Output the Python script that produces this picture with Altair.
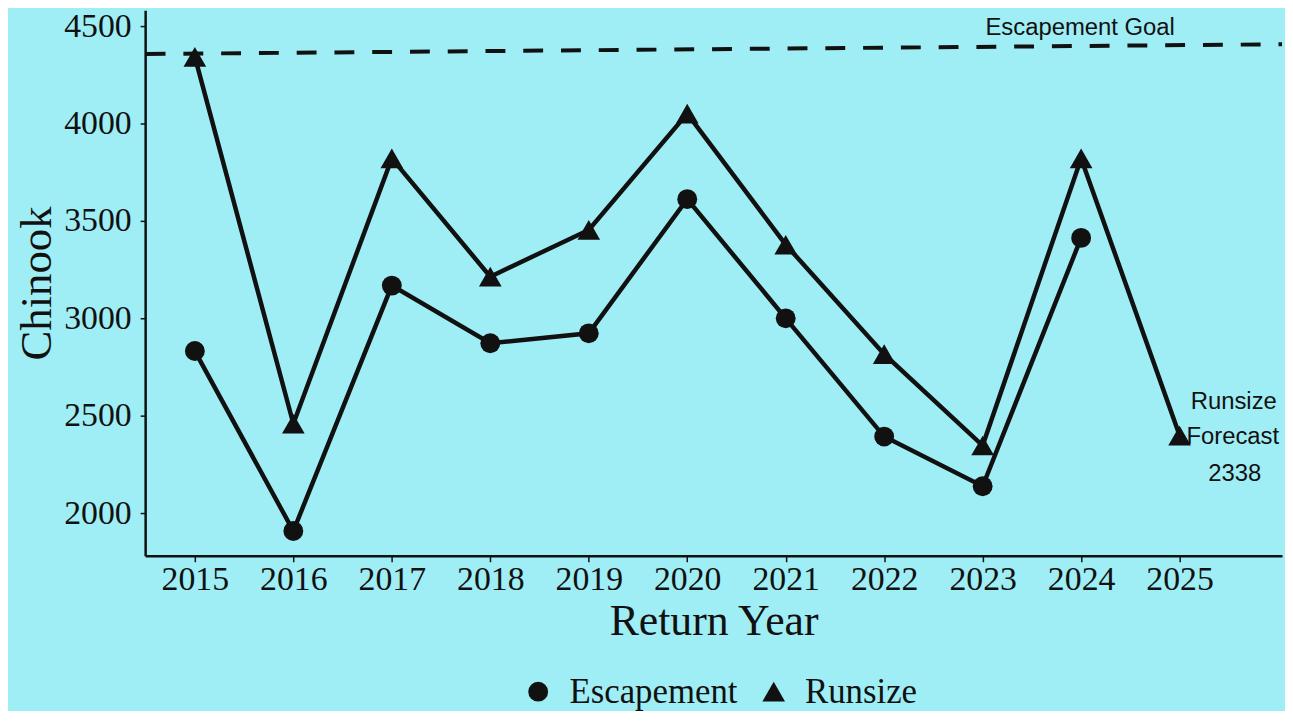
import altair as alt
import pandas as pd

years_esc = [2015, 2016, 2017, 2018, 2019, 2020, 2021, 2022, 2023, 2024]
escapement = [2832, 1908, 3168, 2872, 2923, 3612, 3000, 2393, 2138, 3413]
years_run = [2015, 2016, 2017, 2018, 2019, 2020, 2021, 2022, 2023, 2024, 2025]
runsize = [4342, 2459, 3821, 3214, 3454, 4051, 3378, 2816, 2347, 3821, 2398]
goal_x = [2014.5, 2026.04]
goal_y = [4357, 4407]
ann_text = ["Escapement Goal", "Runsize", "Forecast", "2338"]
ann_x = [2023.99, 2025.55, 2025.54, 2025.56]
ann_y = [4490, 2571, 2388, 2199]

BG = "#9FEEF5"
SERIF = "Liberation Serif"
SANS = "Liberation Sans"

df = pd.DataFrame(
    {"year": years_esc + years_run,
     "value": escapement + runsize,
     "series": ["Escapement"] * len(years_esc) + ["Runsize"] * len(years_run)}
)
goal = pd.DataFrame({"x": [goal_x[0]], "x2": [goal_x[1]], "y": [goal_y[0]], "y2": [goal_y[1]]})
ann = pd.DataFrame({"t": ann_text, "x": ann_x, "y": ann_y})

xs = alt.Scale(domain=[2014.495, 2026.04], nice=False, zero=False)
ys = alt.Scale(domain=[1781, 4582], nice=False, zero=False)

x_axis = alt.Axis(values=years_run, format="d", labelFont=SERIF, labelFontSize=34,
                  labelColor="#111", tickColor="#111", tickSize=6, tickWidth=1.5,
                  domainColor="#111", domainWidth=2.5, grid=False, labelPadding=1,
                  title="Return Year", titleFont=SERIF, titleFontSize=44,
                  titleFontWeight="normal", titleColor="#111", titlePadding=3)
y_axis = alt.Axis(values=[2000, 2500, 3000, 3500, 4000, 4500], format="d", labelFont=SERIF,
                  labelFontSize=34, labelColor="#111", tickColor="#111", tickSize=5,
                  tickWidth=1.5, domainColor="#111", domainWidth=2.5, grid=False,
                  labelPadding=9, title="Chinook", titleFont=SERIF, titleFontSize=45,
                  titleFontWeight="normal", titleColor="#111", titlePadding=4)

leg = dict(title=None, orient="none", direction="horizontal",
           legendX=378, legendY=668, labelFont=SERIF,
           labelFontSize=35, labelColor="#111", labelLimit=400,
           symbolFillColor="#111", symbolStrokeColor="#111", columnPadding=18,
           labelOffset=14)

base = alt.Chart(df)
lines = base.mark_line(color="#111", strokeWidth=4.5).encode(
    x=alt.X("year:Q", scale=xs, axis=x_axis),
    y=alt.Y("value:Q", scale=ys, axis=y_axis),
    detail="series:N",
)
pts = base.mark_point(filled=True, color="#111", opacity=1).encode(
    x=alt.X("year:Q", scale=xs),
    y=alt.Y("value:Q", scale=ys),
    shape=alt.Shape("series:N",
                    scale=alt.Scale(domain=["Escapement", "Runsize"],
                                    range=["circle", "triangle-up"]),
                    legend=alt.Legend(**leg)),
    size=alt.Size("series:N", scale=alt.Scale(domain=["Escapement", "Runsize"],
                                              range=[400, 520]),
                  legend=alt.Legend(**leg)),
)
goal_rule = alt.Chart(goal).mark_rule(color="#111", strokeWidth=4, strokeDash=[20, 18]).encode(
    x=alt.X("x:Q", scale=xs), x2="x2:Q", y=alt.Y("y:Q", scale=ys), y2="y2:Q"
)
texts = alt.Chart(ann).mark_text(font=SANS, fontSize=24, color="#111").encode(
    x=alt.X("x:Q", scale=xs), y=alt.Y("y:Q", scale=ys), text="t:N"
)

chart = alt.layer(goal_rule, lines, pts, texts).properties(
    width=1144, height=549, background=BG,
    padding={"left": 138, "top": 0, "right": 3, "bottom": 154},
    autosize=alt.AutoSizeParams(type="none"),
).configure_view(stroke=None)

chart.save("out.html", embed_options={"renderer": "svg", "actions": False})
